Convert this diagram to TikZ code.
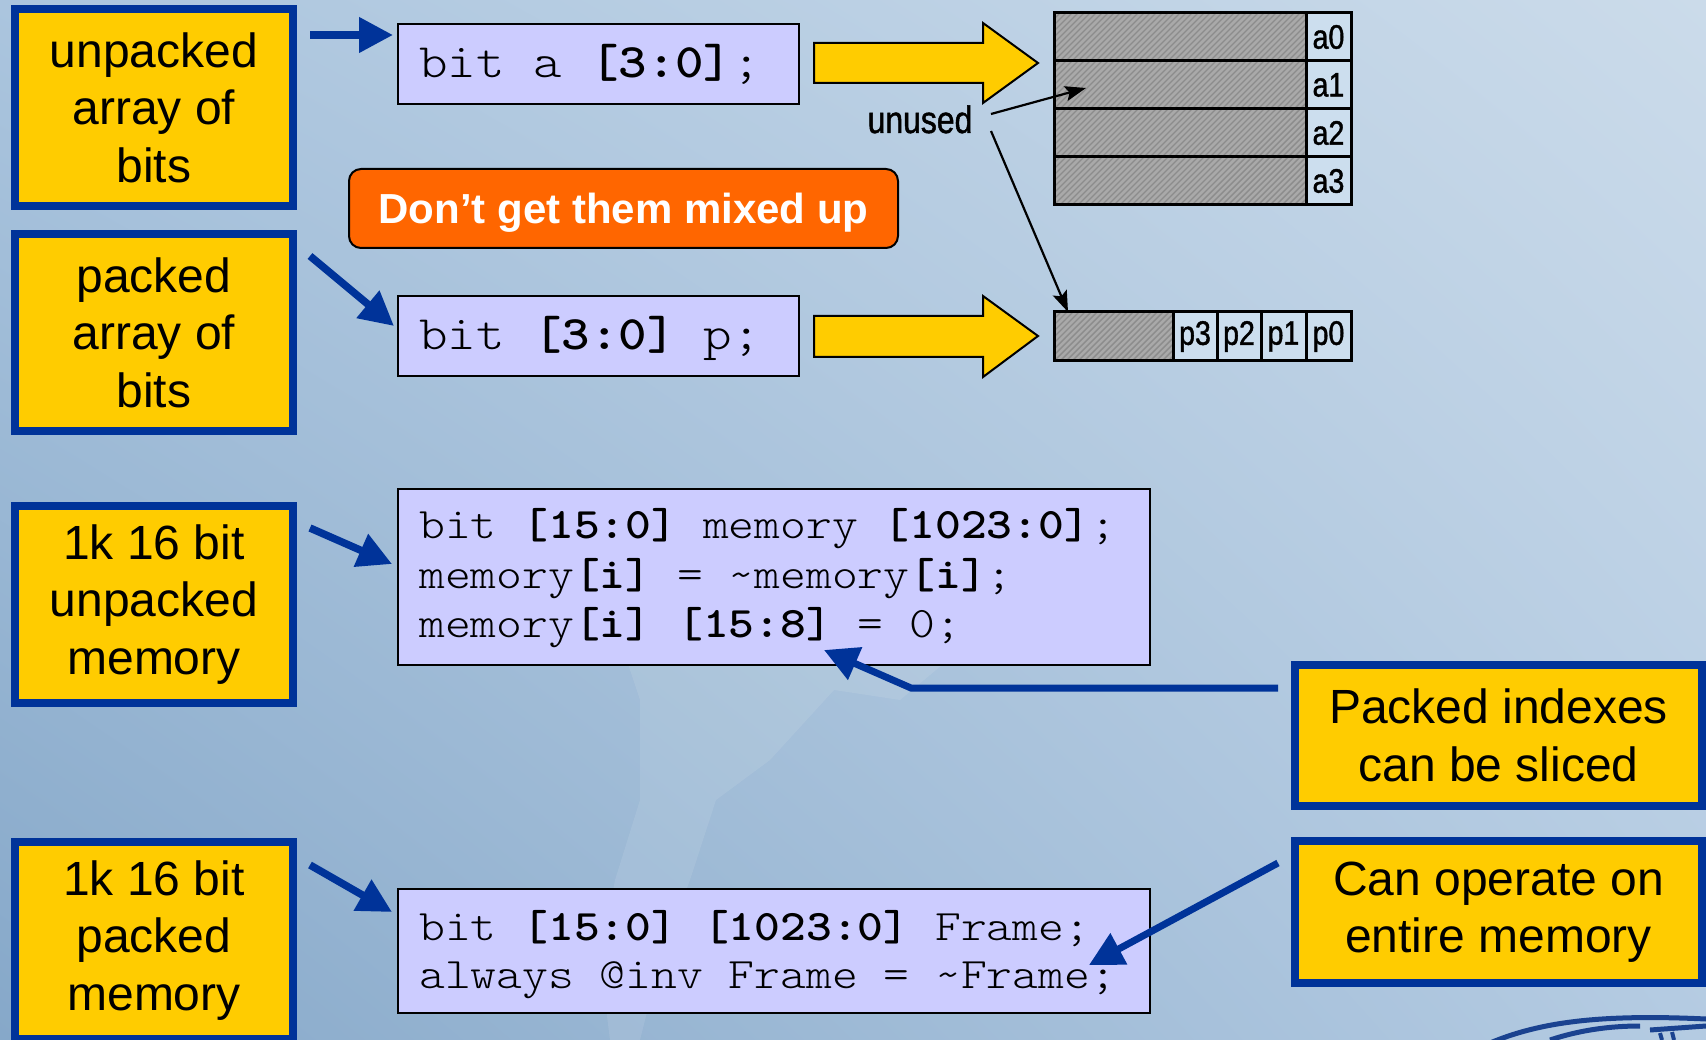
\documentclass[tikz,border=0pt]{standalone}
\usepackage{fontspec}
\usepackage{graphicx}
\setmainfont{Liberation Sans}
\newfontfamily\condensed[FakeStretch=0.84, FakeBold=1.2]{Liberation Sans}
\newfontfamily\codefont[BoldFont=lmmonolt10-bold.otf]{lmmonolt10-regular.otf}
\usetikzlibrary{arrows.meta,shadings}

\definecolor{boxyellow}{HTML}{FFCC00}
\definecolor{navy}{HTML}{003399}
\definecolor{lav}{HTML}{CCCCFF}
\definecolor{warn}{HTML}{FF6600}
\definecolor{hatchgray}{HTML}{A9A9A9}
\definecolor{hatchdark}{HTML}{8C8C8C}
\definecolor{cellblue}{HTML}{CCDEEE}
\definecolor{bgUL}{HTML}{ABC5DE}
\definecolor{bgUR}{HTML}{CBDBEA}
\definecolor{bgLL}{HTML}{86A8C9}
\definecolor{bgLR}{HTML}{B4CBE2}

% monospaced code, widened to a Courier-like advance
\newcommand\cw[1]{\scalebox{1.13}[1]{\codefont #1}}

\tikzset{
  note/.style={draw=navy, line width=8pt, fill=boxyellow, inner sep=0pt,
    font=\fontsize{48}{57.5}\selectfont, align=center},
  codebox/.style={draw=black, line width=2.5pt, fill=lav, inner sep=0pt},
  bigcode/.style={anchor=base west, inner sep=0pt, font=\fontsize{48}{56}\selectfont},
  smallcode/.style={anchor=base west, inner sep=0pt, font=\fontsize{43.5}{50}\selectfont},
  pointer/.style={draw=navy, line width=7.5pt, -{Triangle[length=34pt,width=34pt]}},
  fatarrow/.style={fill=boxyellow, draw=black, line width=2pt, line join=miter},
  hint/.style={draw=black, line width=2.2pt, -{Stealth[length=21pt,width=15pt,inset=4pt]}},
  celltext/.style={inner sep=0pt, font=\condensed\fontsize{34}{40}\selectfont},
  gridline/.style={draw=black, line width=3pt},
}

\begin{document}
\begin{tikzpicture}[x=1pt, y=-1pt]
% ---- background ----
\useasboundingbox (0,0) rectangle (1706,1040);
\shade[upper left=bgUL, upper right=bgUR, lower left=bgLL, lower right=bgLR]
  (0,0) rectangle (1706,1040);
% faint continent outline
\foreach \o in {0.05,0.05}{
  \fill[white, opacity=\o]
    (610,1040) -- (600,960) -- (615,880) -- (640,800) -- (640,700) -- (620,640)
    -- (650,560) -- (720,520) -- (820,540) -- (920,600) -- (960,650) -- (900,700)
    -- (834,690) -- (770,760) -- (716,800) -- (690,880) -- (660,960) -- (640,1040) -- cycle;
}
% corner emblem
\begin{scope}[navy!85!black, line width=5pt, opacity=0.85]
  \draw (1490,1043) .. controls (1540,1022) and (1600,1014) .. (1706,1019);
  \draw (1550,1040) .. controls (1580,1030) and (1610,1026) .. (1640,1026);
  \draw (1650,1030) -- (1706,1026);
  \draw[line width=4pt] (1660,1033) -- (1662,1040) (1672,1032) -- (1674,1040);
\end{scope}

% ---- left-hand captions ----
\node[note, minimum width=278pt, minimum height=197pt] (b1) at (154,107.5)
  {unpacked\\array of\\bits};
\node[note, minimum width=278pt, minimum height=197pt] (b2) at (154,332.5)
  {packed\\array of\\bits};
\node[note, minimum width=278pt, minimum height=197pt] (b3) at (154,604.5)
  {1k 16 bit\\unpacked\\memory};
\node[note, minimum width=278pt, minimum height=197pt] (b4) at (154,940.5)
  {1k 16 bit\\packed\\memory};

% ---- right-hand captions ----
\node[note, minimum width=407pt, minimum height=141pt] (b5) at (1498.5,735.5)
  {Packed indexes\\can be sliced};
\node[note, minimum width=407pt, minimum height=142pt] (b6) at (1498.5,912)
  {Can operate on\\entire memory};

% ---- code boxes ----
\node[codebox, minimum width=401pt, minimum height=80pt] (ca) at (598.5,64) {};
\node[bigcode] (ca1) at (419,78) {\cw{bit a \textbf{[3:0]};}};

\node[codebox, minimum width=401pt, minimum height=80pt] (cp) at (598.5,336) {};
\node[bigcode] (cp1) at (419,350) {\cw{bit \textbf{[3:0]} p;}};

\node[codebox, minimum width=752pt, minimum height=176pt] (cm) at (774,577) {};
\node[smallcode] (cm1) at (419,538) {\cw{bit \textbf{[15:0]} memory \textbf{[1023:0]};}};
\node[smallcode] (cm2) at (419,588) {\cw{memory\textbf{[i]} = \textasciitilde memory\textbf{[i]};}};
\node[smallcode] (cm3) at (419,637) {\cw{memory\textbf{[i]} \textbf{[15:8]} = 0;}};

\node[codebox, minimum width=752pt, minimum height=124pt] (cf) at (774,951) {};
\node[smallcode] (cf1) at (419,940) {\cw{bit \textbf{[15:0]} \textbf{[1023:0]} Frame;}};
\node[smallcode] (cf2) at (419,988) {\cw{always @inv Frame = \textasciitilde Frame;}};

% ---- warning banner ----
\node[draw=black, line width=2pt, fill=warn, rounded corners=12pt,
      minimum width=549pt, minimum height=79pt, inner sep=0pt]
  (warn) at (623.5,208.5) {};
\node[inner sep=0pt, anchor=base, text=white,
      font=\bfseries\fontsize{42}{50}\selectfont]
  (warntext) at (623.5,224) {Don’t get them mixed up};

% ---- wide yellow arrows ----
\draw[fatarrow] (814,43) -- (983,43) -- (983,23) -- (1038,63) -- (983,103)
  -- (983,83) -- (814,83) -- cycle;
\draw[fatarrow] (814,316) -- (983,316) -- (983,296) -- (1038,336) -- (983,377)
  -- (983,357) -- (814,357) -- cycle;

% ---- unpacked storage: four words ----
\fill[cellblue] (1306,13) rectangle (1351,205);
\begin{scope}
  \clip (1054,13) rectangle (1306,205);
  \fill[hatchgray] (1054,13) rectangle (1306,205);
  \foreach \k in {856,862,...,1310}
    \draw[hatchdark, line width=1.4pt] (\k,205) -- (\k+192,13);
\end{scope}
\draw[gridline] (1054,13) rectangle (1351,205);
\draw[gridline] (1054,61) -- (1351,61) (1054,109) -- (1351,109)
  (1054,157) -- (1351,157) (1306,13) -- (1306,205);
\node[celltext] (a0) at (1328.5,37) {a0};
\node[celltext] (a1) at (1328.5,85) {a1};
\node[celltext] (a2) at (1328.5,133) {a2};
\node[celltext] (a3) at (1328.5,181) {a3};

% ---- packed storage: one word ----
\fill[cellblue] (1173,312) rectangle (1351,361);
\begin{scope}
  \clip (1054,312) rectangle (1173,361);
  \fill[hatchgray] (1054,312) rectangle (1173,361);
  \foreach \k in {1000,1006,...,1176}
    \draw[hatchdark, line width=1.4pt] (\k,361) -- (\k+49,312);
\end{scope}
\draw[gridline] (1054,312) rectangle (1351,361);
\draw[gridline] (1173,312) -- (1173,361) (1217,312) -- (1217,361)
  (1261,312) -- (1261,361) (1306,312) -- (1306,361);
\node[celltext] (p3) at (1195,336.5) {p3};
\node[celltext] (p2) at (1239,336.5) {p2};
\node[celltext] (p1) at (1283.5,336.5) {p1};
\node[celltext] (p0) at (1328.5,336.5) {p0};

% ---- "unused" callout ----
\node[inner sep=0pt, anchor=base, font=\condensed\fontsize{38}{44}\selectfont]
  (unused) at (920,133) {unused};
\coordinate (uA) at (991,114);
\coordinate (uAtip) at (1086,88);
\coordinate (uB) at (991,131);
\coordinate (uBtip) at (1068,312);
\draw[hint] (uA) -- (uAtip);
\draw[hint] (uB) -- (uBtip);

% ---- blue pointers ----
\coordinate (s1) at (310,35);   \coordinate (e1) at (393,35);
\coordinate (s2) at (310,256);  \coordinate (e2) at (394,326);
\coordinate (s3) at (310,528);  \coordinate (e3) at (392,564);
\coordinate (s4) at (310,865);  \coordinate (e4) at (392,912);
\draw[pointer] (s1) -- (e1);
\draw[pointer] (s2) -- (e2);
\draw[pointer] (s3) -- (e3);
\draw[pointer] (s4) -- (e4);

\coordinate (s5) at (1278,688); \coordinate (k5) at (911,688); \coordinate (e5) at (824,650);
\draw[pointer, line width=7pt] (s5) -- (k5) -- (e5);
\coordinate (s6) at (1278,863); \coordinate (e6) at (1089,965);
\draw[pointer, line width=7pt] (s6) -- (e6);
\end{tikzpicture}
\end{document}
